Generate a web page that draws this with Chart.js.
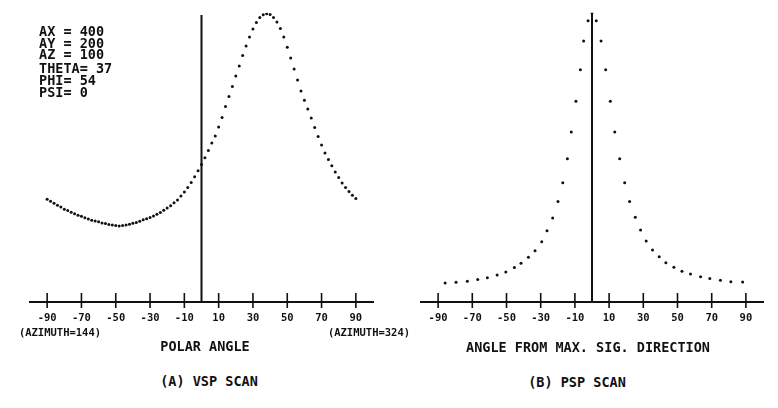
<!DOCTYPE html>
<html>
<head>
<meta charset="utf-8">
<script src="https://cdn.jsdelivr.net/npm/chart.js@4.4.1/dist/chart.umd.min.js"></script>
<style>
    body { margin: 0; background: #fff; }
    #wrap { position: relative; width: 778px; height: 408px; overflow: hidden; background: #fff;
            font-family: "DejaVu Sans Mono", monospace; font-weight: bold; color: #111; }
    canvas { position: absolute; top: 0; }
    .c { position: absolute; white-space: pre; line-height: 1; transform: translate(-50%, -50%); }
    .p { position: absolute; white-space: pre; line-height: 1; transform: translateY(-50%); font-size: 13.5px; }
</style>
</head>
<body>
<div id="wrap">
    <canvas id="vsp" width="390" height="330" style="left:0"></canvas>
    <canvas id="psp" width="388" height="330" style="left:390px"></canvas>

    <div class="p" style="left:39px;top:32px">AX = 400</div>
    <div class="p" style="left:39px;top:43.5px">AY = 200</div>
    <div class="p" style="left:39px;top:55px">AZ = 100</div>
    <div class="p" style="left:39px;top:69px">THETA= 37</div>
    <div class="p" style="left:39px;top:81px">PHI= 54</div>
    <div class="p" style="left:39px;top:93px">PSI= 0</div>

    <div class="c" style="left:60px;top:332px;font-size:10.5px">(AZIMUTH=144)</div>
    <div class="c" style="left:369px;top:332px;font-size:10.5px">(AZIMUTH=324)</div>
    <div class="c" style="left:205px;top:347px;font-size:13.5px">POLAR ANGLE</div>
    <div class="c" style="left:209px;top:382px;font-size:13.5px">(A) VSP SCAN</div>
    <div class="c" style="left:588px;top:348px;font-size:13.5px">ANGLE FROM MAX. SIG. DIRECTION</div>
    <div class="c" style="left:577px;top:383px;font-size:13.5px">(B) PSP SCAN</div>
</div>

<script>
// --- DATA ---
// (A) VSP scan: polar angle (deg) vs relative signal
const vspAngle = [
    -90, -88, -86, -84, -82, -80, -78, -76, -74, -72, -70, -68, -66, -64, -62, -60,
    -58, -56, -54, -52, -50, -48, -46, -44, -42, -40, -38, -36, -34, -32, -30, -28,
    -26, -24, -22, -20, -18, -16, -14, -12, -10, -8, -6, -4, -2, 0, 2, 4, 6, 8, 10,
    12, 14, 16, 18, 20, 22, 24, 26, 28, 30, 32, 34, 36, 38, 40, 42, 44, 46, 48, 50,
    52, 54, 56, 58, 60, 62, 64, 66, 68, 70, 72, 74, 76, 78, 80, 82, 84, 86, 88, 90
];
const vspSignal = [
    0.355, 0.348, 0.341, 0.334, 0.328, 0.321, 0.316, 0.310, 0.305, 0.300, 0.296, 0.291, 0.287, 0.283, 0.280, 0.277,
    0.273, 0.271, 0.268, 0.266, 0.264, 0.263, 0.264, 0.266, 0.269, 0.272, 0.275, 0.279, 0.284, 0.288, 0.292, 0.297,
    0.303, 0.309, 0.317, 0.325, 0.333, 0.343, 0.353, 0.366, 0.380, 0.396, 0.413, 0.433, 0.454, 0.475, 0.499, 0.524, 0.550, 0.574, 0.605,
    0.638, 0.676, 0.710, 0.745, 0.781, 0.816, 0.852, 0.885, 0.916, 0.944, 0.966, 0.983, 0.993, 0.996, 0.994, 0.983, 0.968, 0.945, 0.916, 0.881,
    0.843, 0.805, 0.767, 0.729, 0.697, 0.667, 0.636, 0.603, 0.572, 0.543, 0.515, 0.493, 0.471, 0.449, 0.430, 0.411, 0.396, 0.382, 0.369, 0.358
];

// (B) PSP scan: angle from max. signal direction (deg) vs relative signal
const pspAngle = [
    -85.9, -79.5, -72.9, -66.8, -61.2, -55.5, -50.4, -45.4, -41.5, -37.2, -33.3, -29.4, -26.3, -23.0, -19.9, -17.1,
    -14.4, -12.1, -9.4, -6.8, -4.9, -2.3, 0, 2.5, 5.3, 8.0, 10.7, 13.3, 16.2, 19.1, 22.0, 25.3,
    28.4, 31.7, 35.4, 39.3, 43.2, 47.9, 52.6, 57.6, 63.5, 68.9, 75.1, 81.2, 88.1
];
const pspSignal = [
    0.066, 0.068, 0.072, 0.078, 0.084, 0.093, 0.104, 0.119, 0.134, 0.155, 0.177, 0.208, 0.246, 0.290, 0.347, 0.412,
    0.495, 0.588, 0.694, 0.803, 0.902, 0.972, 1.000, 0.972, 0.902, 0.803, 0.694, 0.588, 0.495, 0.412, 0.347, 0.293,
    0.249, 0.211, 0.180, 0.156, 0.136, 0.120, 0.106, 0.097, 0.087, 0.081, 0.075, 0.070, 0.069
];

const axisTicks = [-90, -70, -50, -30, -10, 10, 30, 50, 70, 90];
const zeroLineTop = { vsp: 0.992, psp: 1.0 };

const INK = '#111';
const MONO = 'DejaVu Sans Mono';

// tick marks cross the axis (above and below), like the plotter output
const crossTicks = {
    id: 'crossTicks',
    afterDraw(chart) {
        const sx = chart.scales.x;
        const ctx = chart.ctx;
        const y0 = sx.top;
        ctx.save();
        ctx.strokeStyle = INK;
        ctx.lineWidth = 1.6;
        sx.ticks.forEach(t => {
            const px = sx.getPixelForValue(t.value);
            ctx.beginPath();
            ctx.moveTo(px, y0 - 9);
            ctx.lineTo(px, y0 + 6);
            ctx.stroke();
        });
        ctx.restore();
    }
};

function makePanel(id, angles, signal, lineTop, padLeft, padRight) {
    const pts = angles.map((a, i) => ({ x: a, y: signal[i] }));
    return new Chart(document.getElementById(id), {
        type: 'scatter',
        data: {
            datasets: [
                { data: pts, pointRadius: 1.5, pointBackgroundColor: INK, pointBorderWidth: 0, showLine: false },
                { type: 'line', data: [{ x: 0, y: 0 }, { x: 0, y: lineTop }],
                  borderColor: INK, borderWidth: 2, pointRadius: 0 }
            ]
        },
        options: {
            responsive: false,
            animation: false,
            devicePixelRatio: 1,
            layout: { padding: { top: 12.7, left: padLeft, right: padRight, bottom: 0 } },
            plugins: { legend: { display: false }, tooltip: { enabled: false } },
            scales: {
                x: {
                    type: 'linear', min: -100, max: 100,
                    afterBuildTicks: s => { s.ticks = axisTicks.map(v => ({ value: v })); },
                    afterFit: s => { s.height = 28; },
                    grid: { display: false, drawTicks: false },
                    border: { display: true, color: INK, width: 2 },
                    ticks: {
                        padding: 10, color: INK, maxRotation: 0, autoSkip: false,
                        font: { family: MONO, weight: 'bold', size: 10.5 },
                        callback: v => String(v)
                    }
                },
                y: { display: false, min: 0, max: 1 }
            }
        },
        plugins: [crossTicks]
    });
}

makePanel('vsp', vspAngle, vspSignal, zeroLineTop.vsp, 30, 17);
makePanel('psp', pspAngle, pspSignal, zeroLineTop.psp, 31, 15);
</script>
</body>
</html>
